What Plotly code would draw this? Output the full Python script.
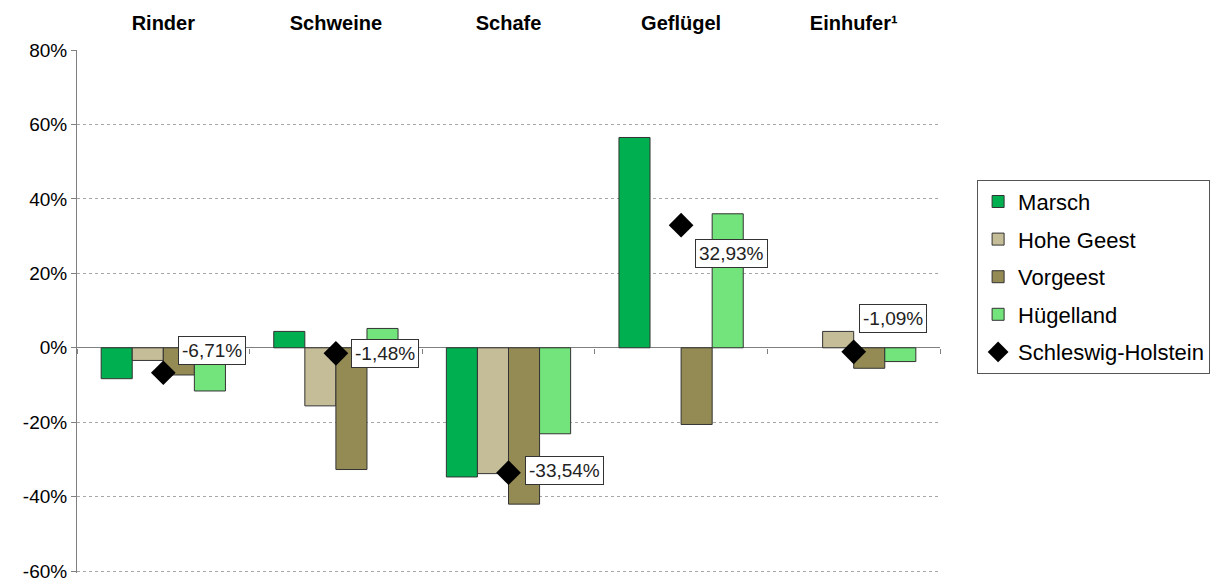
import plotly.graph_objects as go

categories = ["Rinder", "Schweine", "Schafe", "Geflügel", "Einhufer¹"]
marsch = [-8.3, 4.4, -34.7, 56.5, None]
hohe_geest = [-3.4, -15.6, -33.8, None, 4.4]
vorgeest = [-7.3, -32.7, -42.0, -20.6, -5.5]
huegelland = [-11.6, 5.2, -23.1, 36.0, -3.7]
schleswig_holstein = [-6.71, -1.48, -33.54, 32.93, -1.09]
y_ticks = [-60, -40, -20, 0, 20, 40, 60, 80]
y_ticktext = ["-60%", "-40%", "-20%", "0%", "20%", "40%", "60%", "80%"]

series = [
    ("Marsch", marsch, "#00B050"),
    ("Hohe Geest", hohe_geest, "#C4BD97"),
    ("Vorgeest", vorgeest, "#948A54"),
    ("Hügelland", huegelland, "#72E47B"),
]

FONT = "Liberation Sans, Arial, sans-serif"

fig = go.Figure()
for i, (name, vals, col) in enumerate(series):
    fig.add_trace(go.Bar(
        x=categories, y=vals, name=name, legendgroup=f"g{i}",
        marker=dict(color=col, line=dict(color="#333333", width=1)),
    ))

fig.add_trace(go.Scatter(
    x=categories, y=schleswig_holstein, name="Schleswig-Holstein",
    legendgroup="g4", mode="markers",
    marker=dict(symbol="diamond", size=19, color="black"),
))

# invisible trace to attach the boundary-tick axis
fig.add_trace(go.Scatter(x=[], y=[], xaxis="x2", showlegend=False, hoverinfo="skip"))

# label offsets (pixels) for the Schleswig-Holstein value boxes
label_shift = [(15, 22), (15, 0), (16, 2), (14, -28), (5, 33)]
for cat, v, (dx, dy) in zip(categories, schleswig_holstein, label_shift):
    fig.add_annotation(
        x=cat, y=v, text=f"{v:.2f}".replace(".", ",") + "%",
        showarrow=False, xanchor="left", yanchor="middle",
        xshift=dx, yshift=dy,
        font=dict(family=FONT, size=19, color="#222222"),
        bgcolor="white", bordercolor="#333333", borderwidth=1, borderpad=3,
    )

n = len(categories)
y_lo, y_hi = -60.5, 80
fig.update_layout(
    width=1213, height=583,
    margin=dict(l=77, r=273, t=50, b=10, autoexpand=False),
    paper_bgcolor="white", plot_bgcolor="white",
    barmode="group", bargap=0.28, bargroupgap=0,
    font=dict(family=FONT, size=19, color="black"),
    showlegend=True,
    legend=dict(
        x=1.043, y=0.752, xanchor="left", yanchor="top",
        font=dict(family=FONT, size=22, color="black"),
        bordercolor="#555555", borderwidth=1, bgcolor="white",
        tracegroupgap=6, itemwidth=30,
    ),
    xaxis=dict(
        type="category", side="top", showgrid=False, showline=False,
        ticks="", ticklabelstandoff=15, zeroline=False,
        tickfont=dict(family=FONT, size=20, color="black", weight="bold"),
    ),
    xaxis2=dict(
        overlaying="x", anchor="free", position=(0 - y_lo) / (y_hi - y_lo),
        range=[-0.5, n - 0.5], showgrid=False, zeroline=False,
        showline=False, showticklabels=False, ticks="outside", ticklen=5,
        tickcolor="#808080", tickwidth=1,
        tickvals=[i - 0.5 for i in range(n + 1)],
    ),
    yaxis=dict(
        range=[y_lo, y_hi], tickvals=y_ticks, ticktext=y_ticktext,
        ticklabeloverflow="allow",
        showgrid=True, gridcolor="#A6A6A6", griddash="dot", gridwidth=1,
        showline=True, linecolor="#808080", linewidth=1,
        ticks="outside", ticklen=5, tickcolor="#808080",
        zeroline=True, zerolinecolor="#808080", zerolinewidth=1.3,
        tickfont=dict(family=FONT, size=19, color="black"),
    ),
)

fig.write_html(
    "out.html",
    config={"displayModeBar": False},
    post_script="document.body.style.margin='0';document.body.style.overflow='hidden';",
)
